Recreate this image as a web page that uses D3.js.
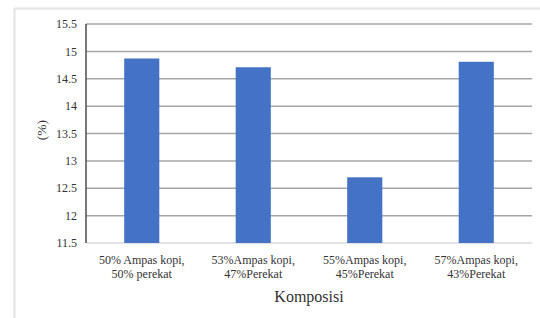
<!DOCTYPE html>
<html>
<head>
<meta charset="utf-8">
<script src="https://cdn.jsdelivr.net/npm/d3@7"></script>
<style>
html,body{margin:0;padding:0;background:#fff;}
svg{display:block;}
</style>
</head>
<body>
<svg id="chart" width="540" height="318"></svg>
<script>
const categories = [
  ["50% Ampas kopi,", "50% perekat"],
  ["53%Ampas kopi,", "47%Perekat"],
  ["55%Ampas kopi,", "45%Perekat"],
  ["57%Ampas kopi,", "43%Perekat"]
];
const values = [14.87, 14.71, 12.70, 14.81];
const yTicks = [11.5, 12, 12.5, 13, 13.5, 14, 14.5, 15, 15.5];
const yTickLabels = ["11.5", "12", "12.5", "13", "13.5", "14", "14.5", "15", "15.5"];
const yTitle = "(%)";
const xTitle = "Komposisi";

(function () {
const svg = d3.select("#chart");
const FONT = '"Liberation Serif"';

// outer frame
svg.append("line").attr("x1", 14).attr("x2", 540).attr("y1", 8.5).attr("y2", 8.5)
  .attr("stroke", "#e4e4e4").attr("stroke-width", 2);
svg.append("line").attr("x1", 14.5).attr("x2", 14.5).attr("y1", 8).attr("y2", 318)
  .attr("stroke", "#e4e4e4").attr("stroke-width", 2);

const mLeft = 86, mRight = 532, mTop = 24, mBottom = 243;
const x = d3.scaleBand().domain(d3.range(categories.length)).range([mLeft, mRight])
  .paddingInner(0.685).paddingOuter(0.3425);
const y = d3.scaleLinear().domain([11.5, 15.5]).range([mBottom, mTop]);

// gridlines
svg.append("g").selectAll("line").data(yTicks).join("line")
  .attr("x1", mLeft).attr("x2", mRight)
  .attr("y1", d => y(d)).attr("y2", d => y(d))
  .attr("stroke", d => d === 11.5 ? "#d9d9d9" : "#a6a6a6").attr("stroke-width", 1.5);

// bars
svg.append("g").selectAll("rect").data(values).join("rect")
  .attr("x", (d, i) => x(i)).attr("width", x.bandwidth())
  .attr("y", d => y(d)).attr("height", d => y(11.5) - y(d))
  .attr("fill", "#4472c4");

// y axis line
svg.append("line").attr("x1", mLeft).attr("x2", mLeft).attr("y1", mTop).attr("y2", mBottom)
  .attr("stroke", "#4d4d4d").attr("stroke-width", 1.5);

// y tick labels
svg.append("g").selectAll("text").data(yTicks).join("text")
  .attr("x", 77).attr("y", d => y(d)).attr("dy", "0.35em")
  .attr("text-anchor", "end").style("font-family", FONT).style("font-size", "12px")
  .attr("fill", "#333")
  .text((d, i) => yTickLabels[i]);

// x labels
const xl = svg.append("g").selectAll("text").data(categories).join("text")
  .attr("text-anchor", "middle").style("font-family", FONT).style("font-size", "12px")
  .attr("fill", "#333");
xl.each(function (d, i) {
  const t = d3.select(this);
  const cx = x(i) + x.bandwidth() / 2;
  t.append("tspan").attr("x", cx).attr("y", 264).text(d[0]);
  t.append("tspan").attr("x", cx).attr("y", 278).text(d[1]);
});

// titles
svg.append("text").attr("transform", "translate(46,130) rotate(-90)")
  .attr("text-anchor", "middle").style("font-family", FONT).style("font-size", "13.5px")
  .attr("fill", "#333").text(yTitle);
svg.append("text").attr("x", (mLeft + mRight) / 2).attr("y", 302)
  .attr("text-anchor", "middle").style("font-family", FONT).style("font-size", "16px")
  .attr("fill", "#333").text(xTitle);
})();
</script>
</body>
</html>
